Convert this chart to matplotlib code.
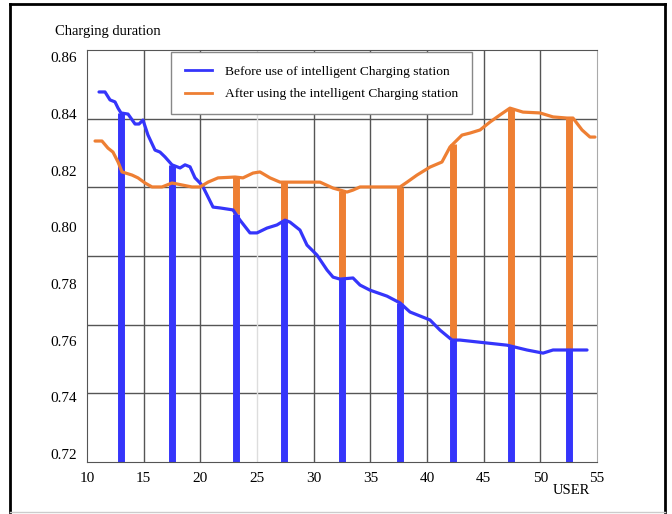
import numpy as np
import matplotlib.pyplot as plt
from matplotlib.lines import Line2D

# series
blue_x = [11.06, 11.59, 12.03, 12.47, 12.74, 13.0, 13.62, 14.24, 14.59, 14.94,
          15.38, 16.0, 16.44, 16.88, 17.5, 18.21, 18.65, 19.09, 19.53, 19.97,
          20.24, 21.12, 21.74, 22.88, 23.5, 24.38, 25.0, 25.88, 26.76, 27.47,
          27.91, 28.79, 29.41, 30.29, 31.18, 31.71, 32.32, 33.47, 34.09, 34.97,
          36.47, 37.62, 38.5, 40.26, 41.15, 42.21, 42.91, 47.06, 48.82, 50.24,
          51.12, 52.35, 54.12]
blue_y = [0.8477, 0.8477, 0.8449, 0.8442, 0.8420, 0.8403, 0.8399, 0.8364, 0.8364, 0.8378,
          0.8325, 0.8272, 0.8265, 0.8248, 0.8220, 0.8209, 0.8220, 0.8213, 0.8174, 0.8156,
          0.8142, 0.8071, 0.8068, 0.8061, 0.8025, 0.7980, 0.7980, 0.7997, 0.8008, 0.8025,
          0.8018, 0.7990, 0.7937, 0.7902, 0.7849, 0.7824, 0.7817, 0.7821, 0.7796, 0.7778,
          0.7757, 0.7733, 0.7701, 0.7673, 0.7637, 0.7602, 0.7602, 0.7584, 0.7567, 0.7556,
          0.7567, 0.7567, 0.7567]

orange_x = [10.71, 11.32, 11.85, 12.29, 12.74, 13.09, 13.97, 14.5, 15.12, 15.74,
            16.62, 17.5, 18.38, 19.26, 19.97, 20.68, 21.56, 23.06, 23.76, 24.65,
            25.26, 26.15, 27.03, 30.56, 31.71, 32.94, 33.47, 34.09, 37.62, 38.24,
            39.12, 40.26, 41.32, 42.03, 43.09, 43.79, 44.68, 45.56, 46.44, 47.32,
            48.47, 49.97, 51.12, 52.35, 52.88, 53.68, 54.38, 54.82]
orange_y = [0.8304, 0.8304, 0.8279, 0.8265, 0.8230, 0.8195, 0.8184, 0.8174, 0.8156, 0.8142,
            0.8142, 0.8156, 0.8149, 0.8142, 0.8142, 0.8159, 0.8174, 0.8177, 0.8174, 0.8191,
            0.8195, 0.8174, 0.8159, 0.8159, 0.8138, 0.8124, 0.8131, 0.8142, 0.8142, 0.8159,
            0.8184, 0.8212, 0.8230, 0.8283, 0.8325, 0.8332, 0.8343, 0.8371, 0.8396, 0.8420,
            0.8406, 0.8403, 0.8389, 0.8385, 0.8385, 0.8343, 0.8318, 0.8318]

# users where the vertical bars stand
bar_users = [13.0, 17.5, 23.15, 27.38, 32.5, 37.62, 42.3, 47.41, 52.53]

y_labels = [0.72, 0.74, 0.76, 0.78, 0.80, 0.82, 0.84, 0.86]
x_labels = [10, 15, 20, 25, 30, 35, 40, 45, 50, 55]

blue = '#3535fb'
orange = '#ee7f33'
serif = ['Liberation Serif', 'DejaVu Serif']

fig = plt.figure(figsize=(6.72, 5.14), dpi=100)
ax = fig.add_axes([87 / 672, 1 - 462 / 514, 510 / 672, 412 / 514])

y0, y1 = 0.7172, 0.8625
ax.set_xlim(10, 55)
ax.set_ylim(y0, y1)

# grid lines (not at the labelled values)
for gy in np.linspace(y0, y1, 7)[1:-1]:
    ax.axhline(gy, color='#555555', lw=1.0, zorder=1)
for gx in x_labels[1:-1]:
    ax.axvline(gx, color='#dddddd' if gx == 25 else '#555555', lw=1.0, zorder=1)

bx = np.array(bar_users)
b_top = np.interp(bx, blue_x, blue_y)
o_top = np.interp(bx, orange_x, orange_y)
ax.vlines(bx, y0, b_top, color=blue, lw=5, zorder=2)
up = o_top > b_top
ax.vlines(bx[up], b_top[up], o_top[up], color=orange, lw=5, zorder=2)

ax.plot(blue_x, blue_y, color=blue, lw=2.3, zorder=3, solid_capstyle='round')
ax.plot(orange_x, orange_y, color=orange, lw=2.3, zorder=3, solid_capstyle='round')

ax.set_yticks(y_labels)
ax.set_yticklabels([f'{v:.2f}' for v in y_labels], fontfamily=serif, fontsize=11)
ax.set_xticks(x_labels)
ax.set_xticklabels([str(v) for v in x_labels], fontfamily=serif, fontsize=11)
ax.tick_params(axis='both', length=0)
ax.tick_params(axis='y', pad=7)
ax.tick_params(axis='x', pad=7)

for s in ['left', 'bottom', 'top']:
    ax.spines[s].set_color('#555555')
ax.spines['right'].set_color('#aaaaaa')

fig.text(55 / 672, 1 - 32 / 514, 'Charging duration', fontfamily=serif, fontsize=10.5,
         va='center', ha='left')
fig.text(553 / 672, 1 - 491 / 514, 'USER', fontfamily=serif, fontsize=10.5,
         va='center', ha='left')

handles = [Line2D([], [], color=blue, lw=2), Line2D([], [], color=orange, lw=2)]
leg = ax.legend(handles, ['Before use of intelligent Charging station',
                          'After using the intelligent Charging station'],
                loc='upper left', bbox_to_anchor=(0.165, 0.995), borderaxespad=0,
                fancybox=False, prop={'family': serif, 'size': 9.7},
                handlelength=2.0, borderpad=1.0, labelspacing=0.75,
                handletextpad=1.0, framealpha=1)
leg.get_frame().set_edgecolor('#888888')
leg.get_frame().set_linewidth(1.0)

# outer frame of the picture
fig.add_artist(Line2D([10 / 672, 10 / 672], [1 - 512 / 514, 1 - 4 / 514], color='black', lw=2))
fig.add_artist(Line2D([10 / 672, 665 / 672], [1 - 4 / 514, 1 - 4 / 514], color='black', lw=2))
fig.add_artist(Line2D([665 / 672, 665 / 672], [1 - 512 / 514, 1 - 4 / 514], color='black', lw=2))
fig.add_artist(Line2D([10 / 672, 665 / 672], [1 - 512 / 514, 1 - 512 / 514], color='#cccccc', lw=1))

fig.savefig('out.png', dpi=100)
